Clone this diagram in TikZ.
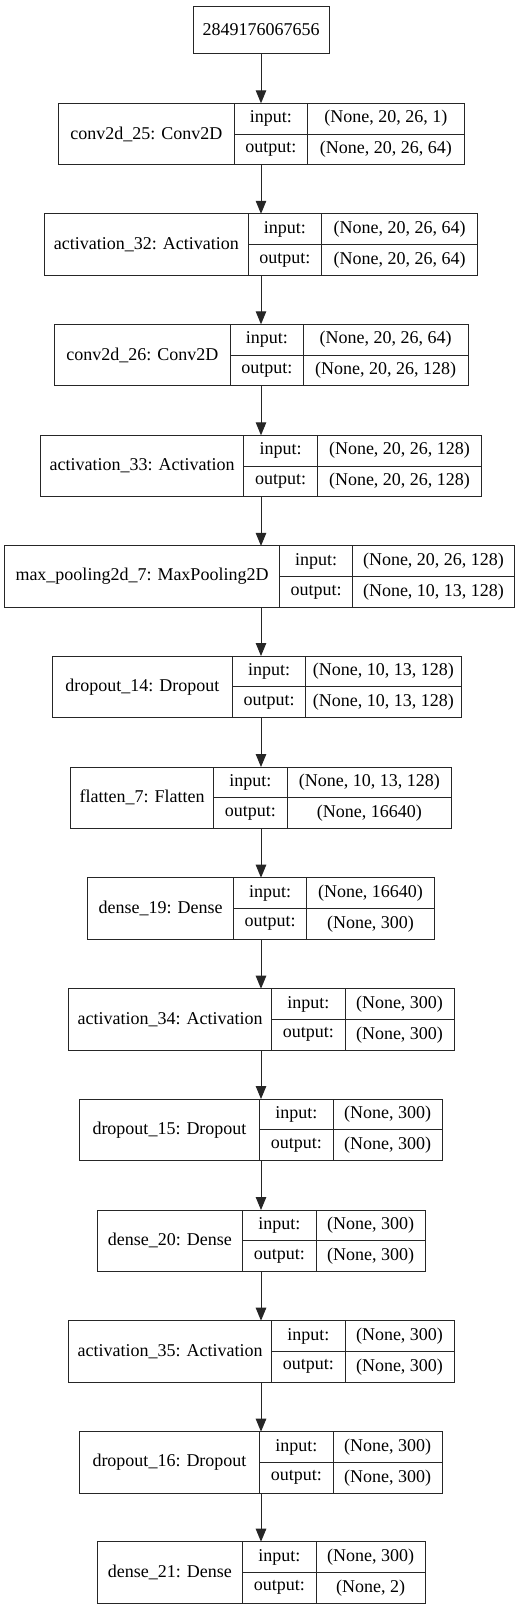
\documentclass[tikz,border=0pt]{standalone}
\usepackage{fontspec}
\setmainfont{Liberation Serif}
\usetikzlibrary{arrows.meta}
\tikzset{
  cellbox/.style={draw=black!85, line width=1pt, inner sep=0pt, outer sep=0pt,
    font=\fontsize{18}{20}\selectfont, text=black},
  arr/.style={draw=black!85, line width=1pt, -{Triangle[length=13pt,width=10.5pt]}}
}
\newcommand\layerrow[9]{%
  \pgfmathsetmacro\wa{#6-#5}%
  \pgfmathsetmacro\wb{#7-#6}%
  \pgfmathsetmacro\wc{#8-#7}%
  \node[cellbox, minimum width=\wa pt, minimum height=61.4pt, anchor=north west] (#1) at (#5pt,-#9pt) {#2};
  \node[cellbox, minimum width=\wb pt, minimum height=30.7pt, anchor=north west] (#1-il) at (#6pt,-#9pt) {input:};
  \node[cellbox, minimum width=\wb pt, minimum height=30.7pt, anchor=north west] (#1-ol) at (#6pt,-#9pt-30.7pt) {output:};
  \node[cellbox, minimum width=\wc pt, minimum height=30.7pt, anchor=north west] (#1-iv) at (#7pt,-#9pt) {#3};
  \node[cellbox, minimum width=\wc pt, minimum height=30.7pt, anchor=north west] (#1-ov) at (#7pt,-#9pt-30.7pt) {#4};
}
\begin{document}
\begin{tikzpicture}
\useasboundingbox[fill=white] (0,0) rectangle (531pt,-1609pt);
\node[cellbox, minimum width=136pt, minimum height=47pt, anchor=north west] (top) at (193pt,-6pt) {2849176067656};
\layerrow{l1}{conv2d\_25: Conv2D}{(None, 20, 26, 1)}{(None, 20, 26, 64)}{58.3}{234.3}{307.3}{464.3}{103.3}
\layerrow{l2}{activation\_32: Activation}{(None, 20, 26, 64)}{(None, 20, 26, 64)}{44.7}{248}{321.7}{477.7}{213.8}
\layerrow{l3}{conv2d\_26: Conv2D}{(None, 20, 26, 64)}{(None, 20, 26, 128)}{54.3}{230.3}{303.3}{468}{324.3}
\layerrow{l4}{activation\_33: Activation}{(None, 20, 26, 128)}{(None, 20, 26, 128)}{40.7}{243.7}{317.3}{481.7}{435.3}
\layerrow{l5}{max\_pooling2d\_7: MaxPooling2D}{(None, 20, 26, 128)}{(None, 10, 13, 128)}{4.7}{279.3}{352.7}{514.3}{545.9}
\layerrow{l6}{dropout\_14: Dropout}{(None, 10, 13, 128)}{(None, 10, 13, 128)}{52.3}{232.3}{305.7}{461}{656}
\layerrow{l7}{flatten\_7: Flatten}{(None, 10, 13, 128)}{(None, 16640)}{70.7}{213.7}{287}{451.7}{767}
\layerrow{l8}{dense\_19: Dense}{(None, 16640)}{(None, 300)}{87.7}{233.7}{306.7}{434.3}{877.7}
\layerrow{l9}{activation\_34: Activation}{(None, 300)}{(None, 300)}{68.3}{271.7}{345}{454}{988.7}
\layerrow{l10}{dropout\_15: Dropout}{(None, 300)}{(None, 300)}{79.3}{259.7}{333}{442.3}{1099}
\layerrow{l11}{dense\_20: Dense}{(None, 300)}{(None, 300)}{97}{242.7}{316}{425.3}{1210}
\layerrow{l12}{activation\_35: Activation}{(None, 300)}{(None, 300)}{68.3}{271.7}{345}{454}{1320.7}
\layerrow{l13}{dropout\_16: Dropout}{(None, 300)}{(None, 300)}{79.3}{259.7}{333}{442.3}{1431.7}
\layerrow{l14}{dense\_21: Dense}{(None, 300)}{(None, 2)}{97}{242.7}{316}{425.3}{1541.7}
\coordinate (axis) at (261pt,0);
\draw[arr] (top.south -| axis) -- (l1.north -| axis);
\foreach \a/\b in {l1/l2,l2/l3,l3/l4,l4/l5,l5/l6,l6/l7,l7/l8,l8/l9,l9/l10,l10/l11,l11/l12,l12/l13,l13/l14}{
  \draw[arr] (\a.south -| axis) -- (\b.north -| axis);
}
\end{tikzpicture}
\end{document}
